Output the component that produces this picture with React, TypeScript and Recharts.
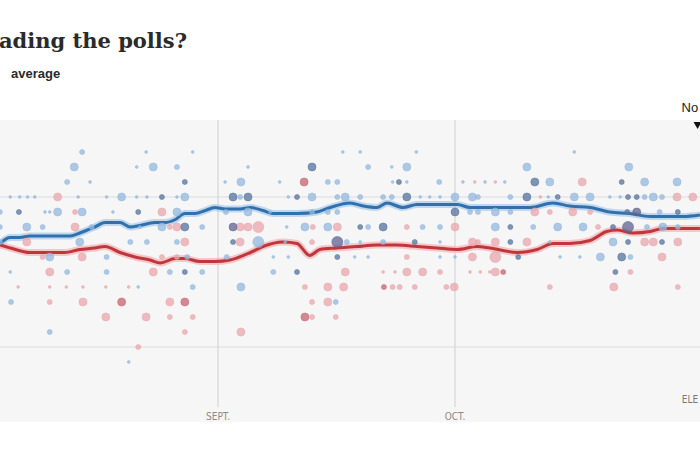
import React from 'react';
import { ComposedChart, Line, Scatter, XAxis, YAxis, ReferenceLine, ReferenceDot } from 'recharts';

// Days counted from Aug. 1 (Sept. 1 = 31, Oct. 1 = 61)
const tickDays = [31, 61];
const tickLabels = ['SEPT.', 'OCT.'];

const clintonAvgDays = [3.4, 4.7, 5.9, 7.2, 9.7, 12.3, 13.5, 15.4, 16.7, 18.6, 19.9, 21.1, 23.0, 24.3, 25.6, 26.8, 28.1, 29.4, 30.6, 31.9, 33.8, 35.1, 36.7, 38.0, 41.0, 43.5, 45.2, 47.7, 49.4, 51.1, 52.4, 54.4, 56.2, 58.7, 61.3, 62.9, 66.7, 70.5, 73.4, 75.5, 78.1, 80.6, 83.1, 85.7, 88.2, 89.9, 92.0];
const clintonAvg = [46.9, 47.3, 47.3, 47.4, 47.4, 47.4, 47.6, 48.0, 48.3, 48.3, 48.0, 48.1, 48.3, 48.3, 48.5, 48.9, 48.9, 49.1, 49.3, 49.2, 49.2, 49.3, 49.1, 48.9, 48.9, 49.0, 49.3, 49.6, 49.4, 49.3, 49.6, 49.3, 49.5, 49.5, 49.5, 49.3, 49.3, 49.3, 49.6, 49.4, 49.3, 49.0, 48.9, 48.7, 48.7, 48.7, 48.8];

const trumpAvgDays = [3.4, 4.7, 7.2, 9.7, 11.6, 13.5, 15.4, 16.7, 18.6, 20.5, 22.4, 23.7, 25.6, 26.8, 28.7, 30.6, 32.5, 35.1, 36.7, 39.2, 41.0, 42.6, 43.9, 46.1, 48.6, 51.1, 53.6, 56.2, 58.7, 61.3, 63.8, 65.4, 68.9, 71.4, 73.4, 75.5, 78.1, 80.2, 81.5, 83.5, 85.7, 87.3, 89.9, 92.0];
const trumpAvg = [46.8, 46.6, 46.3, 46.3, 46.3, 46.5, 46.6, 46.7, 46.3, 46.0, 45.8, 45.6, 45.9, 45.9, 45.7, 45.7, 45.8, 46.3, 46.7, 47.0, 46.9, 46.1, 46.5, 46.6, 46.7, 46.8, 46.8, 46.7, 46.6, 46.5, 46.7, 46.6, 46.3, 46.5, 46.9, 46.9, 47.1, 47.7, 47.8, 47.6, 47.7, 47.9, 47.9, 47.9];

// [day, percent, weight (1-4), shade (0 light, 1 dark, 2 overlap)]
const clintonPolls: number[][] = [
  [13.8,53,2,0],[21.9,53,1,0],[27.8,53,1,0],[46.8,53,1,0],[49.0,53,1,0],[56.1,53,1,0],[76.1,53,1,0],
  [12.8,52,3,0],[20.7,52,1,0],[22.8,52,3,0],[25.8,52,2,0],[34.8,52,1,0],[42.9,52,3,1],[50.0,52,2,0],[53.0,52,1,0],[54.9,52,3,0],[70.1,52,3,0],[83.0,52,3,0],
  [11.9,51,2,0],[14.8,51,1,0],[26.8,51,2,1],[31.9,51,1,0],[33.9,51,3,0],[38.8,51,1,0],[44.9,51,2,0],[46.1,51,2,0],[53.1,51,1,0],[53.9,51,2,1],[54.9,51,1,0],[59.0,51,2,0],[62.0,51,1,0],[64.8,51,1,0],[67.3,51,1,0],[71.1,51,3,1],[73.0,51,3,0],[82.1,51,2,1],[85.0,51,3,0],[89.1,51,3,0],
  [4.7,50,1,0],[5.9,50,1,0],[6.9,50,1,0],[7.8,50,1,0],[13.3,50,1,0],[16.9,50,1,0],[18.8,50,3,0],[20.7,50,1,0],[22.0,50,1,0],[23.9,50,2,1],[25.8,50,1,0],[26.8,50,3,0],[32.9,50,3,1],[33.8,50,2,0],[34.8,50,3,1],[39.9,50,1,0],[41.0,50,2,1],[42.9,50,3,0],[46.1,50,2,0],[47.1,50,3,0],[49.0,50,2,0],[51.9,50,2,0],[53.0,50,2,0],[54.9,50,3,1],[56.6,50,1,0],[57.8,50,1,0],[59.1,50,1,0],[61.0,50,3,0],[63.2,50,3,0],[63.9,50,2,0],[68.0,50,2,0],[70.1,50,3,1],[72.8,50,1,0],[74.0,50,2,1],[76.1,50,3,0],[78.1,50,3,0],[80.6,50,1,0],[81.9,50,1,0],[82.9,50,2,1],[84.0,50,2,1],[85.0,50,2,0],[86.1,50,3,0],[87.2,50,2,0],
  [3.4,49,2,0],[5.8,49,2,1],[9.1,49,1,0],[9.7,49,1,0],[10.7,49,3,0],[13.8,49,3,0],[17.7,49,1,0],[20.9,49,2,1],[25.8,49,3,0],[32.0,49,2,0],[34.8,49,3,0],[37.6,49,1,0],[42.9,49,2,0],[44.9,49,2,0],[46.1,49,2,0],[61.0,49,3,1],[62.9,49,2,0],[63.9,49,2,0],[66.1,49,3,0],[68.0,49,2,0],[82.8,49,2,1],[84.0,49,3,2],[86.9,49,2,0],[89.2,49,2,1],
  [3.4,48,2,0],[6.8,48,3,0],[8.8,48,2,0],[15.0,48,2,0],[21.1,48,1,0],[23.9,48,3,0],[26.8,48,3,1],[29.0,48,2,0],[32.9,48,3,2],[39.7,48,1,0],[42.0,48,3,0],[44.9,48,3,0],[49.0,48,2,1],[50.0,48,2,0],[51.9,48,3,1],[56.9,48,2,0],[59.1,48,2,0],[66.1,48,3,0],[68.0,48,2,1],[70.9,48,2,0],[74.0,48,3,0],[77.2,48,3,0],[81.0,48,2,1],[82.9,48,4,2],[85.3,48,2,0],[87.3,48,3,0],[89.2,48,2,0],
  [3.4,47,2,0],[13.5,47,3,0],[19.9,47,2,0],[22.0,47,2,0],[25.8,47,2,0],[32.9,47,2,1],[36.1,47,4,0],[39.5,47,1,0],[46.1,47,4,2],[47.3,47,2,0],[49.0,47,1,0],[51.9,47,2,0],[55.9,47,2,1],[59.1,47,1,0],[68.0,47,2,1],[73.0,47,1,0],[81.0,47,3,0],[82.9,47,2,1],[87.2,47,2,1],
  [9.7,46,3,0],[16.9,46,2,0],[27.1,46,2,0],[32.1,46,2,0],[38.0,46,1,0],[39.9,46,1,0],[46.1,46,2,1],[48.3,46,1,0],[50.0,46,1,0],[59.1,46,1,0],[61.0,46,1,0],[69.0,46,2,1],[74.3,46,1,0],[76.8,46,1,0],[79.4,46,3,0],[82.1,46,3,1],[83.2,46,2,0],
  [4.7,45,1,0],[11.9,45,2,0],[16.9,45,2,0],[24.9,45,2,0],[26.8,45,2,1],[29.0,45,2,0],[38.0,45,2,0],[41.0,45,2,1],[81.3,45,2,1],
  [20.9,44,1,0],[27.8,44,2,0],[33.9,44,3,0],
  [4.8,43,2,0],[45.9,43,2,0],
  [9.7,41,2,0],
  [19.7,39,1,0],
];

const trumpPolls: number[][] = [
  [41.9,51,3,1],[63.5,51,1,0],[66.1,51,1,0],[77.1,51,3,0],
  [10.7,50,3,0],[71.8,50,1,0],[89.1,50,3,0],[91.1,50,3,0],
  [12.9,49,2,0],[23.9,49,3,0],[71.1,49,3,0],[73.0,49,2,0],[75.9,49,3,0],[78.1,49,2,0],
  [12.9,48,3,0],[24.9,48,2,0],[25.8,48,3,0],[33.8,48,3,0],[34.8,48,3,0],[36.1,48,4,0],[43.0,48,2,0],[46.1,48,3,0],[54.9,48,2,0],[61.0,48,3,0],[79.1,48,2,0],
  [6.8,47,3,0],[26.8,47,3,0],[33.8,47,3,0],[42.9,47,2,0],[63.2,47,3,0],[63.9,47,2,0],[66.1,47,3,0],[70.1,47,3,0],[85.0,47,3,0],[86.1,47,3,0],[89.2,47,3,0],
  [8.8,46,2,0],[13.8,46,3,0],[23.9,46,2,0],[25.8,46,2,0],[54.9,46,2,0],[63.2,46,3,0],[66.1,46,4,0],[87.2,46,3,0],
  [9.7,45,3,0],[22.8,45,3,0],[47.1,45,3,0],[51.9,45,1,0],[53.4,45,1,0],[54.9,45,3,0],[56.9,45,3,0],[59.1,45,2,0],[62.9,45,1,0],[64.2,45,1,0],[65.4,45,1,0],[66.1,45,3,0],[67.1,45,2,1],[83.2,45,2,0],
  [5.7,44,1,0],[9.7,44,1,0],[11.8,44,1,0],[13.9,44,1,0],[16.8,44,1,0],[19.7,44,1,0],[42.0,44,2,0],[44.9,44,3,0],[46.9,44,3,0],[52.0,44,2,1],[53.1,44,2,0],[54.0,44,2,0],[55.9,44,2,0],[59.9,44,2,0],[60.9,44,3,0],[73.0,44,2,0],[81.1,44,3,0],[89.2,44,2,0],
  [9.7,43,2,0],[13.9,43,3,0],[18.8,43,3,1],[24.9,43,3,0],[26.8,43,3,1],[42.9,43,2,0],[44.9,43,3,0],
  [16.8,42,3,0],[21.9,42,3,0],[24.9,42,2,0],[27.8,42,2,0],[42.0,42,3,1],[42.9,42,2,0],[45.9,42,2,0],
  [26.8,41,2,0],[33.9,41,3,0],
  [20.9,40,2,0],
];

const toPolls = (rows: number[][]) => rows.map(([day, pct, w, shade]) => ({ day, pct, w, shade }));
const clintonLine = clintonAvgDays.map((day, i) => ({ day, v: clintonAvg[i] }));
const trumpLine = trumpAvgDays.map((day, i) => ({ day, v: trumpAvg[i] }));
const clintonDots = toPolls(clintonPolls);
const trumpDots = toPolls(trumpPolls);

const radius = [0, 1.4, 2.5, 4, 5.5];
const blueFill = ['#93b8dd', '#56739e', '#606290'];
const redFill = ['#e9a7ac', '#c86470', '#8a5f80'];

const makeDot = (palette: string[]) => (props: any) => {
  const { cx, cy, payload } = props;
  if (cx == null || cy == null) return <g />;
  const fill = palette[payload.shade];
  return <circle cx={cx} cy={cy} r={radius[payload.w]} fill={fill} fillOpacity={0.75} stroke={fill} strokeOpacity={0.9} strokeWidth={0.6} />;
};

const AxisTick = (props: any) => {
  const { x, y, payload } = props;
  const idx = tickDays.indexOf(payload.value);
  return (
    <text x={x} y={y} dy={5} textAnchor="middle" fontSize={10} fill="#8a8a8a" fontFamily="'Liberation Sans Narrow', 'DejaVu Sans Condensed', Arial, sans-serif">
      {tickLabels[idx]}
    </text>
  );
};

const LatestMarker = (props: any) => {
  const { cx, cy } = props;
  return (
    <g>
      <text x={cx - 16} y={cy - 10} fontSize={13} fill="#222" fontFamily="'Liberation Sans', Arial, sans-serif">No</text>
      <polygon points={`${cx - 4},${cy} ${cx + 4},${cy} ${cx},${cy + 7}`} fill="#111" />
    </g>
  );
};

const ElectionLabel = (props: any) => {
  const { cx, cy } = props;
  return (
    <text x={cx} y={cy} fontSize={10} fill="#777" fontFamily="'Liberation Sans Narrow', 'DejaVu Sans Condensed', Arial, sans-serif">ELE</text>
  );
};

export default function App() {
  return (
    <div style={{ position: 'absolute', left: 0, top: 0, width: 700, height: 450, overflow: 'hidden', background: '#fff' }}>
      <div style={{ position: 'absolute', left: 0, top: 120, width: 700, height: 302, background: '#f6f6f6' }} />
      <svg width={700} height={110} style={{ position: 'absolute', left: 0, top: 0 }}>
        <text x={-1} y={48} fontSize={21} fontWeight="bold" fill="#2a2a2a" fontFamily="'DejaVu Serif', serif">ading the polls?</text>
        <text x={11} y={78} fontSize={13} fontWeight="bold" fill="#2a2a2a" fontFamily="'Liberation Sans', Arial, sans-serif">average</text>
      </svg>
      <div style={{ position: 'absolute', left: 0, top: 0 }}>
        <ComposedChart width={700} height={450} margin={{ top: 120, right: 0, bottom: 28, left: 0 }}>
          <XAxis
            dataKey="day"
            type="number"
            domain={[3.405, 92.01]}
            allowDataOverflow
            ticks={tickDays}
            tick={<AxisTick />}
            axisLine={false}
            tickLine={false}
            height={15}
          />
          <YAxis type="number" domain={[36, 55.1333]} allowDataOverflow hide width={0} />
          <ReferenceLine y={50} stroke="#dcdcdc" strokeWidth={1} />
          <ReferenceLine y={40} stroke="#dcdcdc" strokeWidth={1} />
          <ReferenceLine x={31} stroke="#cfcfcf" strokeWidth={1} />
          <ReferenceLine x={61} stroke="#cfcfcf" strokeWidth={1} />
          <Scatter data={trumpDots} dataKey="pct" shape={makeDot(redFill)} isAnimationActive={false} />
          <Scatter data={clintonDots} dataKey="pct" shape={makeDot(blueFill)} isAnimationActive={false} />
          <Line data={trumpLine} dataKey="v" type="monotone" stroke="#f3b3b5" strokeOpacity={0.7} strokeWidth={7} dot={false} activeDot={false} isAnimationActive={false} />
          <Line data={clintonLine} dataKey="v" type="monotone" stroke="#aacbea" strokeOpacity={0.7} strokeWidth={7} dot={false} activeDot={false} isAnimationActive={false} />
          <Line data={trumpLine} dataKey="v" type="monotone" stroke="#c1353c" strokeWidth={3} dot={false} activeDot={false} isAnimationActive={false} />
          <Line data={clintonLine} dataKey="v" type="monotone" stroke="#2f70ad" strokeWidth={3} dot={false} activeDot={false} isAnimationActive={false} />
          <ReferenceDot x={91.7} y={55} r={0} ifOverflow="visible" shape={<LatestMarker />} />
          <ReferenceDot x={89.7} y={36.3} r={0} ifOverflow="visible" shape={<ElectionLabel />} />
        </ComposedChart>
      </div>
    </div>
  );
}
